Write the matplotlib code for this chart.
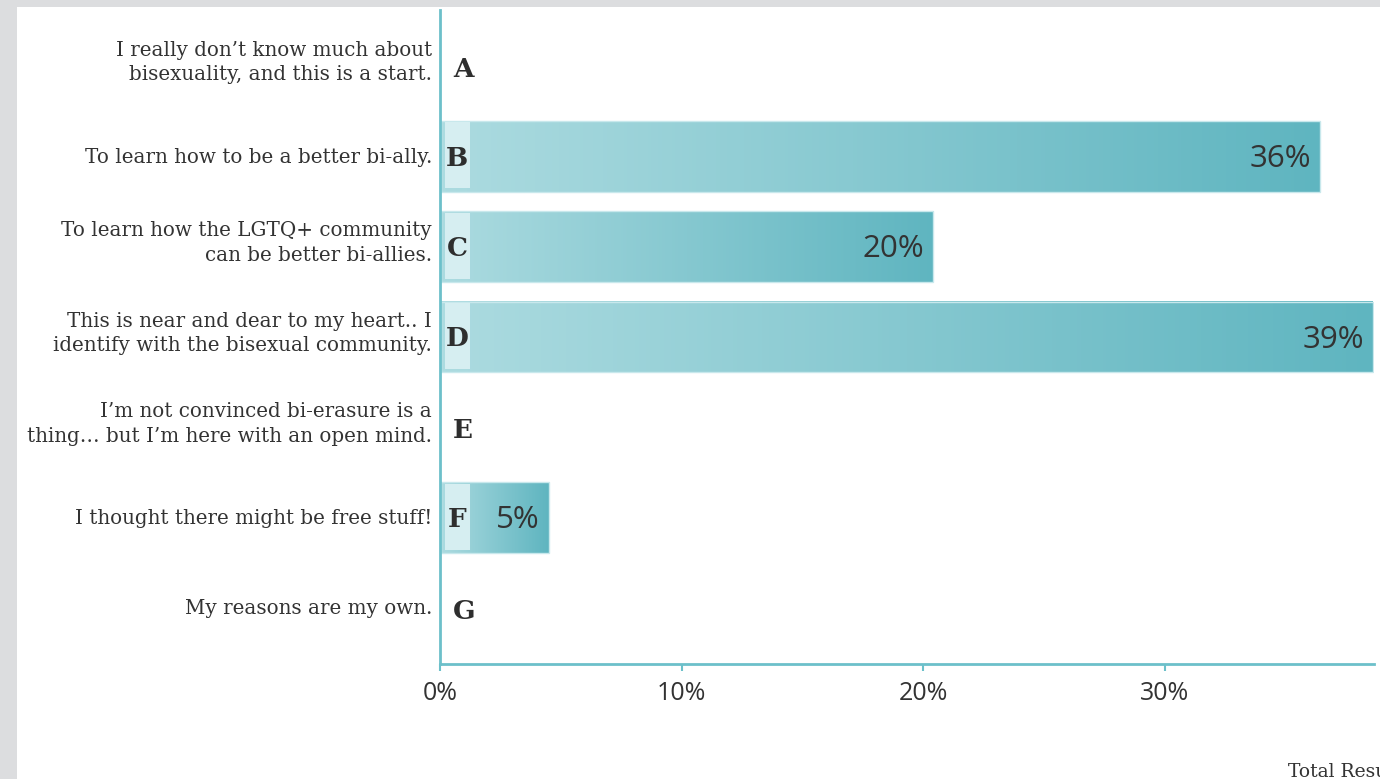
import matplotlib
matplotlib.use("Agg")
import matplotlib.pyplot as plt
import numpy as np
from matplotlib.colors import LinearSegmentedColormap
from matplotlib.patches import Rectangle

# ---- data ----
categories = [
    "I really don\u2019t know much about\nbisexuality, and this is a start.",
    "To learn how to be a better bi-ally.",
    "To learn how the LGTQ+ community\ncan be better bi-allies.",
    "This is near and dear to my heart.. I\nidentify with the bisexual community.",
    "I\u2019m not convinced bi-erasure is a\nthing\u2026 but I\u2019m here with an open mind.",
    "I thought there might be free stuff!",
    "My reasons are my own.",
]
letters = ["A", "B", "C", "D", "E", "F", "G"]
values = [0.0, 36.4, 20.4, 38.6, 0.0, 4.5, 0.0]
value_labels = ["", "36%", "20%", "39%", "", "5%", ""]
xticks = [0, 10, 20, 30]
xtick_labels = ["0%", "10%", "20%", "30%"]

W, H = 1380, 779
fig = plt.figure(figsize=(W / 100, H / 100), dpi=100)
fig.patch.set_facecolor("#dcdddf")
fig.patches.append(Rectangle((17 / W, 0), 1 - 17 / W, 1 - 7 / H,
                             transform=fig.transFigure, facecolor="white",
                             edgecolor="none", zorder=-10))

ax_left, ax_right = 440 / W, 1374 / W
ax_top, ax_bot = 1 - 10 / H, 1 - 664 / H
ax = fig.add_axes([ax_left, ax_bot, ax_right - ax_left, ax_top - ax_bot])
ax.set_facecolor("none")

teal = "#6cc0ca"
cmap = LinearSegmentedColormap.from_list("tg", ["#acdbe0", "#5fb5c0"])
bar_h = 0.78
xmax = 38.65
label_font = "DejaVu Serif"

for i, v in enumerate(values):
    if v > 0:
        grad = np.linspace(0, 1, 256).reshape(1, -1)
        ax.imshow(grad, cmap=cmap, aspect="auto",
                  extent=(0.04, v, i + bar_h / 2, i - bar_h / 2),
                  zorder=1, interpolation="bilinear")
        ax.add_patch(Rectangle((0.04, i - bar_h / 2), v - 0.04, bar_h,
                               facecolor="none", edgecolor="#c8e8ec",
                               linewidth=1, zorder=2))
        ax.add_patch(Rectangle((0.2, i - bar_h / 2 + 0.015), 1.05, bar_h - 0.05,
                               facecolor="#d6eef1", edgecolor="none", zorder=2))
        ax.text(0.72, i + 0.02, letters[i], ha="center", va="center",
                fontsize=19, fontweight="bold", family=label_font,
                color="#2e2e2e", zorder=3)
        ax.text(v - 0.36, i + 0.03, value_labels[i], ha="right", va="center",
                fontsize=22.5, family="Open Sans", color="#333333", zorder=3)
    else:
        ax.text(0.55, i + 0.04, letters[i], ha="left", va="center",
                fontsize=19, fontweight="bold", family=label_font,
                color="#2e2e2e", zorder=3)
    two = "\n" in categories[i]
    ax.text(-0.33, i - (0.04 if two else -0.01), categories[i], ha="right",
            va="center", fontsize=14.3, family=label_font, color="#333333",
            linespacing=1.38, transform=ax.transData, clip_on=False)

ax.set_xlim(0, xmax)
ax.set_ylim(6.62, -0.62)
ax.set_yticks([])
ax.set_xticks(xticks)
ax.set_xticklabels(xtick_labels, fontsize=18, family="Open Sans", color="#333333")
ax.tick_params(axis="x", length=5, width=1.5, color=teal, pad=7)
for s in ["top", "right"]:
    ax.spines[s].set_visible(False)
for s in ["left", "bottom"]:
    ax.spines[s].set_color(teal)
    ax.spines[s].set_linewidth(2)

fig.text(1288 / W, 1 - 772 / H, "Total Results", ha="left", va="center",
         fontsize=13.5, family=label_font, color="#333333")

fig.savefig("out.png", dpi=100)
